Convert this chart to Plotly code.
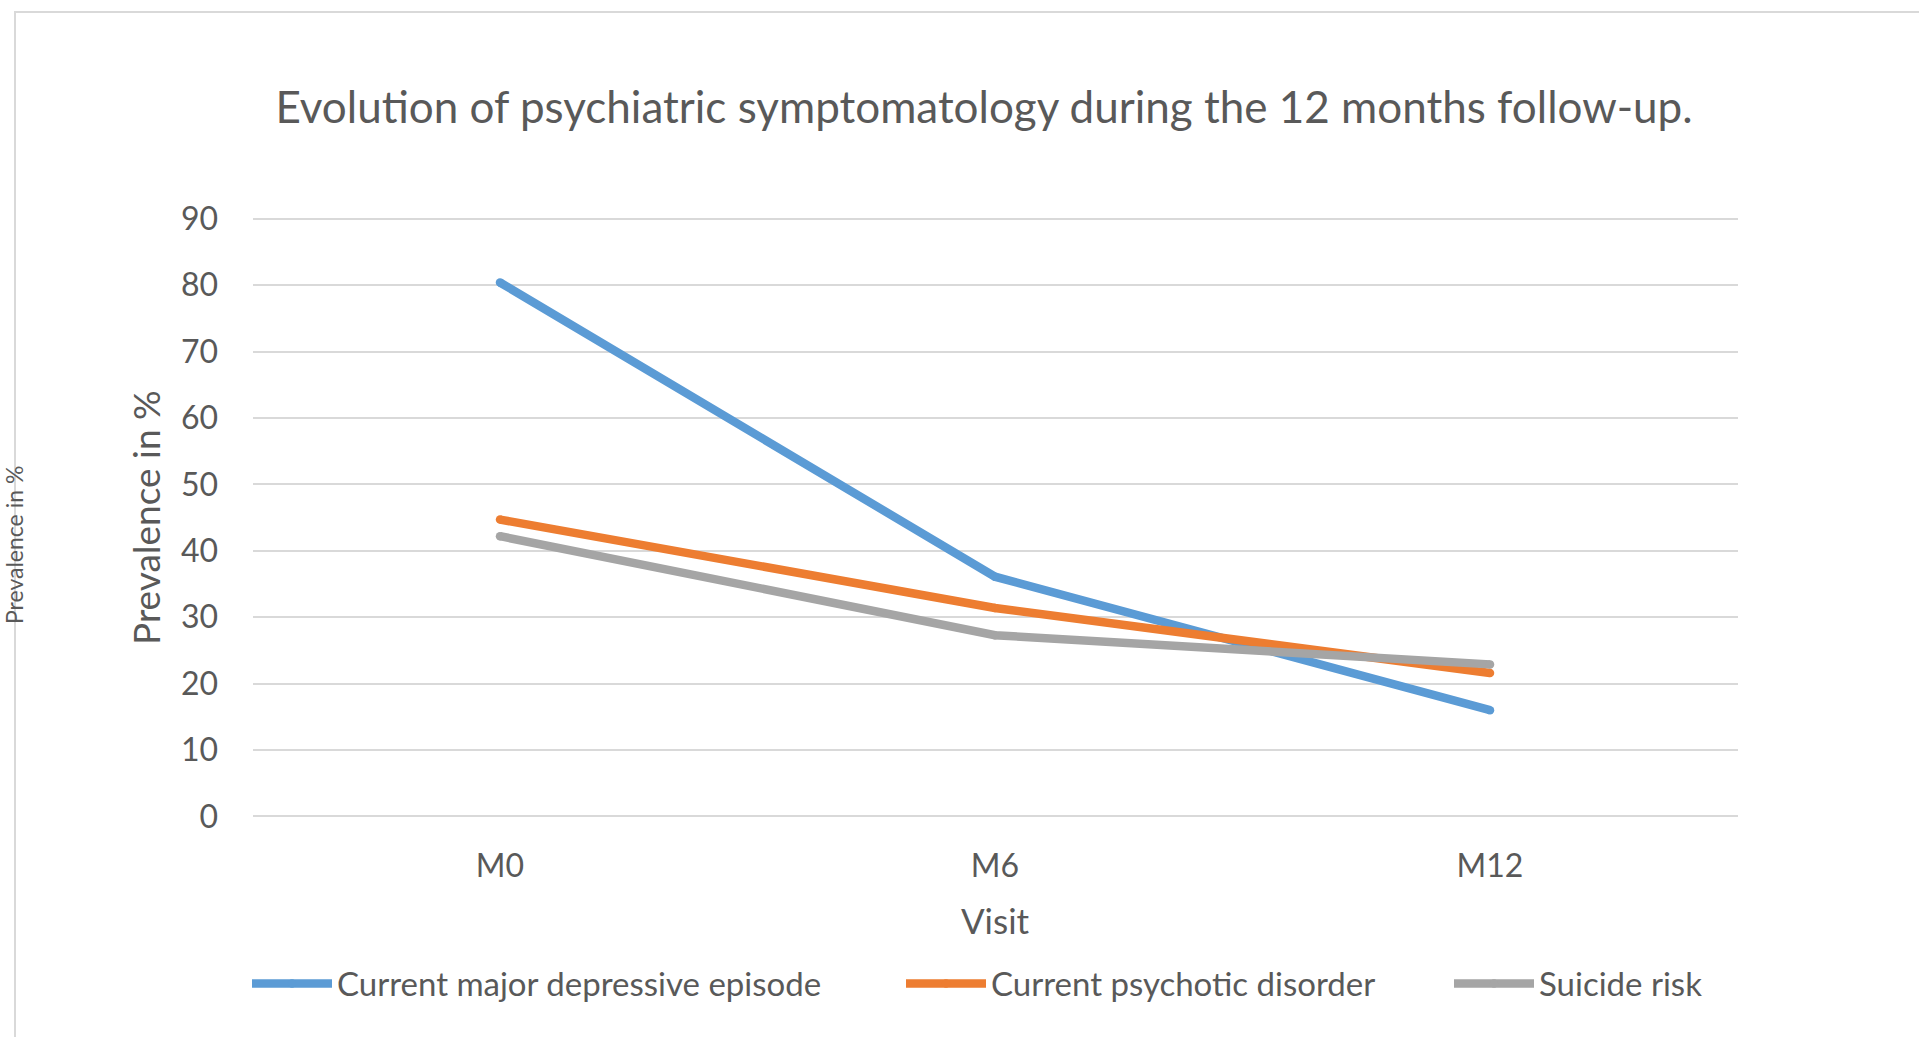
import plotly.graph_objects as go

visits = ["M0", "M6", "M12"]
depressive = [80.4, 36.1, 16.0]
psychotic = [44.7, 31.4, 21.6]
suicide = [42.2, 27.3, 22.9]
y_ticks = [0, 10, 20, 30, 40, 50, 60, 70, 80, 90]

series = [
    ("Current major depressive episode", depressive, "#5B9BD5", "legend"),
    ("Current psychotic disorder", psychotic, "#ED7D31", "legend2"),
    ("Suicide risk", suicide, "#A5A5A5", "legend3"),
]
legend_left_px = [247, 901, 1449]

W, H = 1919, 1037
TXT = "#595959"
FONT = "Lato"

fig = go.Figure()
for name, vals, col, lg in series:
    fig.add_trace(go.Scatter(
        x=visits, y=vals, name=name, mode="lines+markers",
        line=dict(color=col, width=8.5),
        marker=dict(color=col, size=8.5, line=dict(width=0)),
        hoverinfo="skip", legend=lg,
    ))

legend_common = dict(
    orientation="h", xanchor="left", y=1 - 983.5 / H, yanchor="middle",
    font=dict(family=FONT, size=33, color=TXT),
    itemwidth=80, bgcolor="rgba(0,0,0,0)", borderwidth=0,
)

fig.update_layout(
    template="none",
    width=W, height=H, autosize=False,
    margin=dict(l=0, r=0, t=0, b=0, pad=0),
    paper_bgcolor="white", plot_bgcolor="white",
    font=dict(family=FONT, color=TXT),
    title=dict(
        text="Evolution of psychiatric symptomatology during the 12 months follow-up.",
        x=984 / W, xanchor="center", xref="paper",
        y=1 - 108 / H, yanchor="middle", yref="paper",
        font=dict(family=FONT, size=44, color=TXT),
    ),
    xaxis=dict(
        type="category", categoryorder="array", categoryarray=visits,
        range=[-0.5, 2.5],
        domain=[252.5 / W, 1737.5 / W],
        showgrid=False, zeroline=False, showline=False,
        ticks="outside", ticklen=18, tickcolor="rgba(0,0,0,0)",
        tickfont=dict(family=FONT, size=32, color=TXT),
        title=dict(text="Visit", font=dict(family=FONT, size=35, color=TXT), standoff=26),
        fixedrange=True,
    ),
    yaxis=dict(
        range=[-0.5, 90.5],
        domain=[1 - 819.8 / H, 1 - 215.4 / H],
        tickmode="array", tickvals=y_ticks, ticktext=[str(v) for v in y_ticks],
        showgrid=True, gridcolor="#D9D9D9", gridwidth=2,
        zeroline=False, showline=False,
        ticks="outside", ticklen=27, tickcolor="rgba(0,0,0,0)",
        tickfont=dict(family=FONT, size=32, color=TXT),
        title=dict(text="Prevalence in %", font=dict(family=FONT, size=37, color=TXT), standoff=9),
        fixedrange=True,
    ),
    showlegend=True,
    legend=dict(x=legend_left_px[0] / W, **legend_common),
    legend2=dict(x=legend_left_px[1] / W, **legend_common),
    legend3=dict(x=legend_left_px[2] / W, **legend_common),
    shapes=[dict(
        type="rect", xref="paper", yref="paper",
        x0=15 / W, x1=1.01, y0=-0.01, y1=1 - 12 / H,
        line=dict(color="#D9D9D9", width=2), fillcolor="rgba(0,0,0,0)", layer="below",
    )],
    annotations=[dict(
        text="Prevalence in %", textangle=-90, showarrow=False,
        xref="paper", yref="paper", x=14 / W, y=1 - 545 / H,
        xanchor="center", yanchor="middle",
        font=dict(family=FONT, size=23, color=TXT),
    )],
)

fig.write_html("out.html", include_plotlyjs=True,
               config={"displayModeBar": False, "staticPlot": True},
               post_script="document.body.style.margin='0';document.body.style.overflow='hidden';")
